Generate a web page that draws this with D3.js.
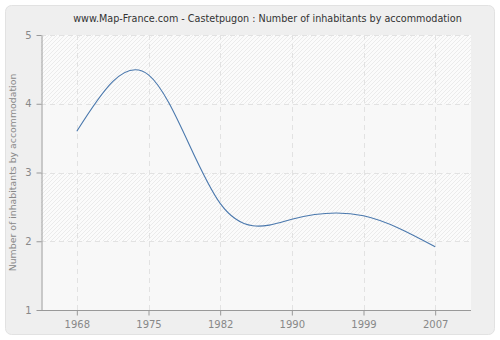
<!DOCTYPE html>
<html>
<head>
<meta charset="utf-8">
<script src="https://cdn.jsdelivr.net/npm/d3@7"></script>
<style>
  html, body { margin: 0; padding: 0; background: #ffffff; }
  svg { display: block; font-family: "DejaVu Sans", Verdana, sans-serif; }
</style>
</head>
<body>
<svg id="chart" width="500" height="340"></svg>
<script>
// Census years and average number of inhabitants per accommodation
const years = ["1968", "1975", "1982", "1990", "1999", "2007"];
const inhabitants = [3.6, 4.42, 2.55, 2.32, 2.37, 1.92];
const yTicks = [1, 2, 3, 4, 5];

const title = "www.Map-France.com - Castetpugon : Number of inhabitants by accommodation";
const yTitle = "Number of inhabitants by accommodation";

const svg = d3.select("#chart");
const W = 500, H = 340;
const plot = { left: 41, right: 471, top: 35, bottom: 310 };
const fontFamily = "DejaVu Sans, Verdana, sans-serif";

// Hatched fill used for alternating bands of the plot area
const defs = svg.append("defs");
const pat = defs.append("pattern")
  .attr("id", "hatch")
  .attr("patternUnits", "userSpaceOnUse")
  .attr("width", 4).attr("height", 4);
pat.append("rect").attr("width", 4).attr("height", 4).attr("fill", "#fbfbfb");
pat.append("path")
  .attr("d", "M-1,1 l2,-2 M0,4 l4,-4 M3,5 l2,-2")
  .attr("stroke", "#ebebeb").attr("stroke-width", 1);

// Outer panel
svg.append("rect")
  .attr("x", 5.5).attr("y", 5.5)
  .attr("width", W - 11).attr("height", H - 11)
  .attr("rx", 6).attr("ry", 6)
  .attr("fill", "#efefef")
  .attr("stroke", "#e2e2e2");

const x = d3.scalePoint()
  .domain(years)
  .range([plot.left, plot.right])
  .padding(0.5);

const y = d3.scaleLinear()
  .domain([1, 5])
  .range([plot.bottom, plot.top]);

// Plot background with alternating hatched / plain horizontal bands
svg.append("rect")
  .attr("x", plot.left).attr("y", plot.top)
  .attr("width", plot.right - plot.left)
  .attr("height", plot.bottom - plot.top)
  .attr("fill", "#f8f8f8");

const bands = d3.pairs(yTicks);
svg.append("g").selectAll("rect")
  .data(bands)
  .join("rect")
  .attr("x", plot.left)
  .attr("y", d => y(d[1]))
  .attr("width", plot.right - plot.left)
  .attr("height", d => y(d[0]) - y(d[1]))
  .attr("fill", (d, i) => (i % 2 === 1) ? "url(#hatch)" : "#f8f8f8");

// Dashed grid
const grid = svg.append("g")
  .attr("stroke", "#e2e2e2")
  .attr("stroke-dasharray", "5,4")
  .attr("stroke-width", 1);
grid.selectAll("line.h")
  .data(yTicks.slice(1))
  .join("line")
  .attr("x1", plot.left).attr("x2", plot.right)
  .attr("y1", d => Math.round(y(d)) + 0.5)
  .attr("y2", d => Math.round(y(d)) + 0.5);
grid.selectAll("line.v")
  .data(years)
  .join("line")
  .attr("y1", plot.top).attr("y2", plot.bottom)
  .attr("x1", d => Math.round(x(d)) + 0.5)
  .attr("x2", d => Math.round(x(d)) + 0.5);

// Axes
const axisColor = "#999999";
const labelColor = "#888888";

const xAxis = svg.append("g")
  .attr("transform", `translate(0,${plot.bottom + 0.5})`)
  .call(d3.axisBottom(x).tickSize(5).tickSizeOuter(0).tickPadding(5));
xAxis.select(".domain").attr("stroke", axisColor)
  .attr("d", `M${plot.left},0H${plot.right}`);

const yAxis = svg.append("g")
  .attr("transform", `translate(${plot.left + 0.5},0)`)
  .call(d3.axisLeft(y).tickValues(yTicks).tickFormat(d3.format("d"))
    .tickSize(5).tickSizeOuter(0).tickPadding(5));
yAxis.select(".domain").attr("stroke", axisColor);

[xAxis, yAxis].forEach(g => {
  g.selectAll(".tick line").attr("stroke", axisColor);
  g.selectAll(".tick text")
    .attr("fill", labelColor)
    .attr("font-size", 10)
    .attr("font-family", fontFamily);
});

// Series line
const line = d3.line()
  .x((d, i) => x(years[i]))
  .y(d => y(d))
  .curve(d3.curveNatural);

svg.append("path")
  .datum(inhabitants)
  .attr("d", line)
  .attr("fill", "none")
  .attr("stroke", "#4a78ad")
  .attr("stroke-width", 1.1);

// Shrink a text's font size until it spans the given width
function fitWidth(sel, width) {
  const len = sel.node().getComputedTextLength();
  const size = parseFloat(sel.attr("font-size"));
  if (len > width) sel.attr("font-size", (size * width / len).toFixed(2));
}

// Titles
const titleText = svg.append("text")
  .attr("x", 267.5).attr("y", 22)
  .attr("text-anchor", "middle")
  .attr("font-size", 11)
  .attr("font-family", fontFamily)
  .attr("fill", "#333333")
  .text(title);
fitWidth(titleText, 389);

const yTitleText = svg.append("text")
  .attr("transform", `translate(16,${(plot.top + plot.bottom) / 2}) rotate(-90)`)
  .attr("text-anchor", "middle")
  .attr("font-size", 11)
  .attr("font-family", fontFamily)
  .attr("fill", labelColor)
  .text(yTitle);
fitWidth(yTitleText, 198);
</script>
</body>
</html>
